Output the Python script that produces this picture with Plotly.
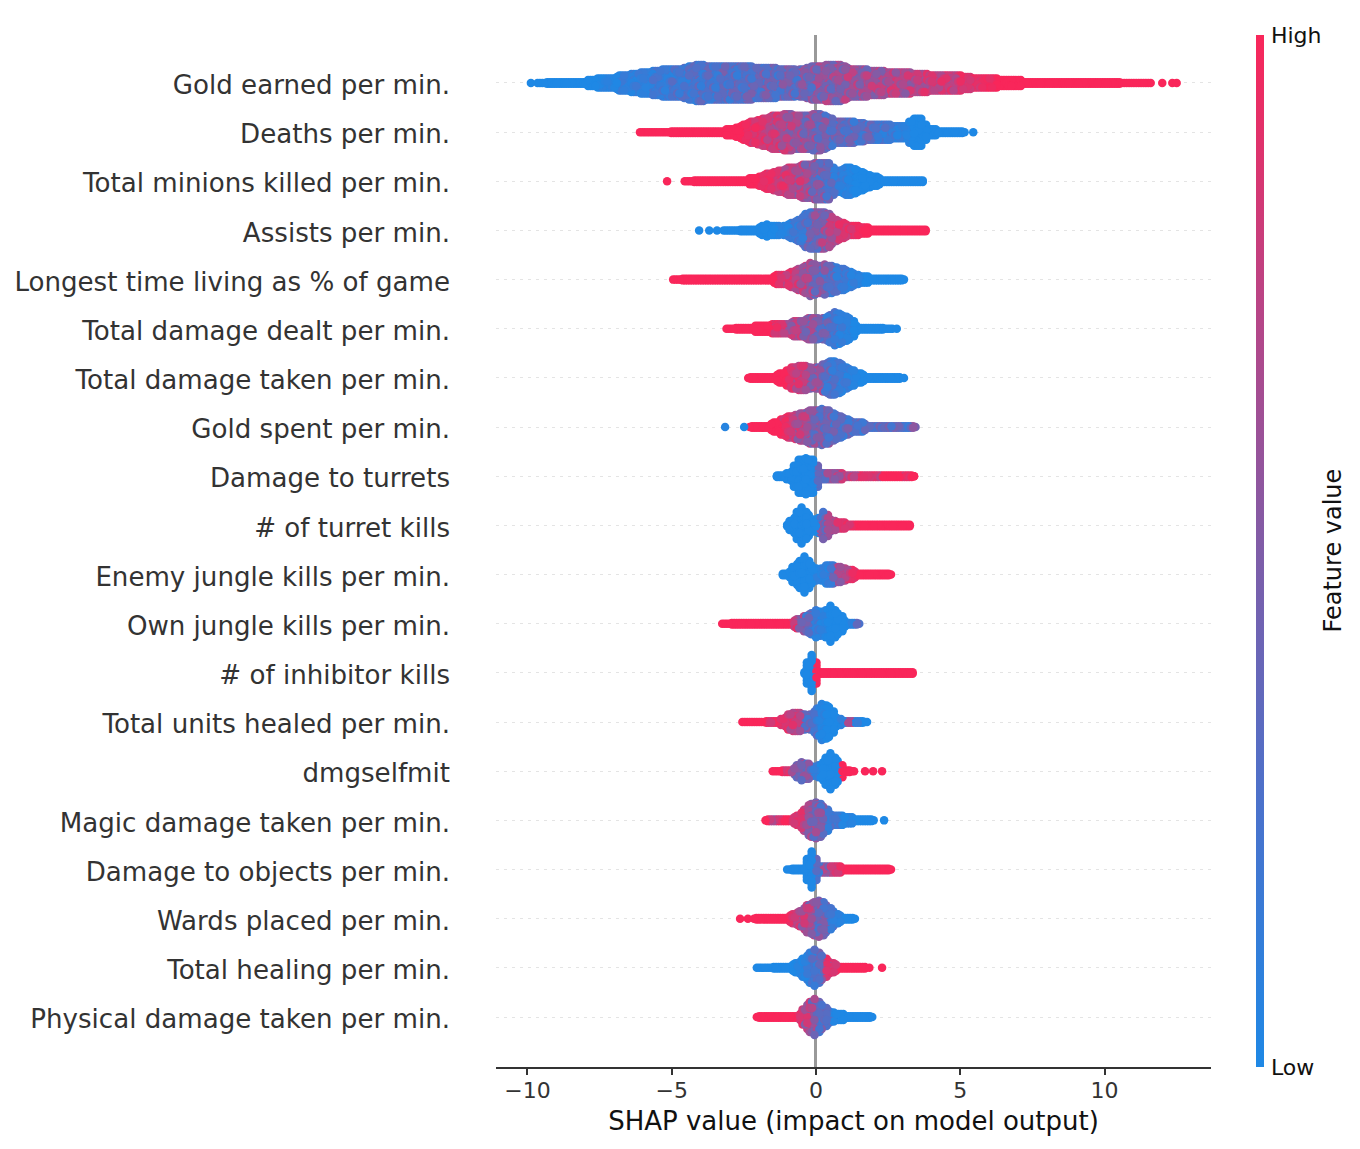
import plotly.graph_objects as go

# Features, top row first, with the x of each row's first swarm column.
FEATURES = [
    "Gold earned per min.", "Deaths per min.", "Total minions killed per min.",
    "Assists per min.", "Longest time living as % of game",
    "Total damage dealt per min.", "Total damage taken per min.",
    "Gold spent per min.", "Damage to turrets", "# of turret kills",
    "Enemy jungle kills per min.", "Own jungle kills per min.",
    "# of inhibitor kills", "Total units healed per min.", "dmgselfmit",
    "Magic damage taken per min.", "Damage to objects per min.",
    "Wards placed per min.", "Total healing per min.",
    "Physical damage taken per min.",
]
ROW_START = [-9.65, -6.1, -4.55, -3.2, -4.95, -3.1, -2.35, -2.3, -1.35, -1.0,
             -1.15, -3.25, -0.4, -2.55, -1.5, -1.75, -0.9, -2.15, -2.05, -2.05]
COLUMN_STEP = 0.25

# Dots per swarm column and mean feature value per column (tenths of the range).
gold_earned_n = [1, 1, 2, 2, 2, 2, 2,
                 3, 3, 4, 4, 5, 6, 7, 7, 8, 9,
                 9, 10, 10, 10, 12, 13, 13, 12, 12, 12,
                 12, 12, 12, 11, 11, 11, 11, 10, 10, 9,
                 10, 12, 12, 13, 13, 13, 11, 10, 10, 9,
                 9, 9, 8, 8, 8, 7, 7, 7, 6, 6,
                 6, 6, 5, 5, 4, 4, 4, 3, 3, 3,
                 3, 2, 2, 2, 2, 2, 2, 2, 2, 2,
                 2, 2, 2, 2, 1, 1, 1, 1, 1]
gold_earned_c = [0, 0, 0, 0, 0, 0, 0,
                 0, 0, .5, .5, .5, 1, 1, 1, 1, 1.5,
                 1.5, 1.5, 2, 2, 2, 2.5, 2.5, 2.5, 2.5, 3,
                 3, 3, 3, 3.5, 3.5, 3.5, 3.5, 4, 4, 4,
                 4.5, 4.5, 5, 5.5, 5.5, 5.5, 6, 6, 6, 6,
                 6.5, 6.5, 7, 7, 7, 7, 7.5, 7.5, 8, 8,
                 8, 8, 8.5, 9, 9, 9.5, 9.5, 10, 10, 10,
                 10, 10, 10, 10, 10, 10, 10, 10, 10, 10,
                 10, 10, 10, 10, 10, 10, 10, 10, 10]

deaths_n = [1, 1, 1, 1, 1, 2, 2, 2, 2, 2, 2, 2, 3, 3, 5, 7, 8, 10, 11, 12, 13, 13,
            12, 12, 13, 13, 11, 8, 8, 8, 7, 7, 6, 6, 6, 5, 5, 5, 10, 10, 3, 3, 2, 2, 2, 1]
deaths_c = [10, 10, 10, 10, 10, 10, 10, 10, 10, 10, 10, 10, 10, 10, 10, 9.5, 9, 8.5, 8, 7.5, 7, 6.5,
            6, 5.5, 5, 4.5, 4, 3.5, 3.5, 3, 3, 3, 3, 2.5, 2, 1.5, 1, .5, 0, 0, 0, 0, 0, 0, 0, 0]

minions_n = [1, 1, 2, 2, 2, 2, 2, 2, 2, 3, 3, 5, 6, 8, 9, 10, 11, 12, 13, 13, 13,
             7, 9, 10, 8, 6, 4, 3, 2, 2, 2, 2, 2, 2]
minions_c = [10, 10, 10, 10, 10, 10, 10, 10, 10, 10, 10, 9.5, 9, 8.5, 8, 7.5, 7, 6, 5, 4, 3,
             2, 1, .5, 0, 0, 0, 0, 0, 0, 0, 0, 0, 0]

assists_n = [1, 1, 1, 2, 2, 3, 5, 4, 3, 5, 7, 10, 13, 13, 13, 10, 7, 5, 4, 3, 3, 2, 2,
             2, 2, 2, 2, 2, 2]
assists_c = [0, 0, 0, 0, 0, 0, 0, 0, .5, 1, 1.5, 2.5, 3.5, 4.5, 5.5, 7, 8, 8.5, 9, 9.5, 10, 10, 10,
             10, 10, 10, 10, 10, 10]

longest_n = [1, 1, 2, 2, 2, 2, 2, 2, 2, 2, 2, 2, 2, 2, 3, 4, 5, 7, 9, 12, 10, 11, 10, 8, 7, 5,
             3, 3, 2, 2, 2, 2, 1]
longest_c = [10, 10, 10, 10, 10, 10, 10, 10, 10, 10, 10, 10, 10, 10, 10, 9, 8.5, 7.5, 7, 5.5, 4.5, 4,
             3, 2, 1.5, 1, .5, 0, 0, 0, 0, 0, 0]

dealt_n = [1, 1, 2, 2, 3, 3, 3, 4, 4, 5, 6, 7, 8, 7, 9, 12, 10, 8, 3, 2, 2, 2, 1, 1]
dealt_c = [10, 10, 10, 10, 10, 10, 10, 9, 8, 7, 6.5, 6, 5, 4, 3, 2, 1, .5, 0, 0, 0, 0, 0, 0]

taken_n = [1, 2, 2, 2, 3, 4, 8, 9, 9, 7, 8, 11, 12, 10, 7, 4, 3, 2, 2, 2, 2, 2]
taken_c = [10, 10, 10, 10, 10, 10, 9, 8, 7, 6, 5, 3, 2, 1.5, 1, .5, 0, 0, 0, 0, 0, 0]

spent_n = [1, 2, 2, 3, 4, 7, 8, 10, 11, 12, 13, 12, 9, 7, 5, 4, 3, 2, 2, 2, 2, 2, 2, 1]
spent_c = [10, 10, 10, 10, 10, 9, 8, 7, 6, 5, 4, 4, 3, 3, 3, 3, 3, 3, 3, 3, 3, 3, 3, 4]

turrets_n = [2, 2, 4, 12, 13, 12, 3, 3, 3, 3, 2, 2, 2, 2, 2, 2, 2, 2, 2, 1]
turrets_c = [0, 0, 0, 0, 0, 0, 3, 5, 6, 7, 7, 8, 9, 9, 8, 10, 10, 10, 9, 10]

turret_kills_n = [2, 6, 13, 8, 2, 10, 5, 3, 3, 2, 2, 2, 2, 2, 2, 2, 2, 2]
turret_kills_c = [0, 0, 0, 0, 0, 4, 6, 8, 9, 9, 10, 10, 10, 10, 10, 10, 10, 10]

enemy_jungle_n = [2, 3, 8, 13, 7, 3, 7, 7, 6, 4, 3, 2, 2, 2, 2, 1]
enemy_jungle_c = [0, 0, 0, 0, 0, .5, 1, 3, 6, 8, 9, 10, 10, 10, 10, 10]

own_jungle_n = [1, 1, 2, 2, 2, 2, 2, 2, 2, 2, 3, 4, 7, 10, 8, 13, 8, 3, 2, 1]
own_jungle_c = [10, 10, 10, 10, 10, 10, 10, 10, 10, 10, 8, 6, 3, 1.5, .5, 0, 0, 0, .5, 3]

inhibitor_n = [2, 13, 2, 2, 2, 2, 2, 2, 2, 2, 2, 2, 2, 2, 2, 2]
inhibitor_c = [0, 0, 10, 10, 10, 10, 10, 10, 10, 10, 10, 10, 10, 10, 10, 10]

units_healed_n = [1, 1, 1, 1, 2, 2, 4, 7, 7, 5, 8, 13, 11, 4, 2, 2, 2, 1]
units_healed_c = [10, 10, 10, 10, 9, 9, 9, 8, 7, 4, 2, .5, 0, 0, .5, 7, 1, 0]

selfmit_n = [1, 1, 2, 3, 7, 6, 3, 7, 13, 8, 2, 1]
selfmit_c = [10, 10, 9, 5, 5, 4, 1, 0, 0, 0, 10, 10]

magic_n = [1, 2, 2, 2, 3, 6, 11, 13, 10, 5, 4, 3, 3, 2, 2, 1]
magic_c = [10, 7, 9, 10, 9, 8, 6, 5, 4, 2, 1.5, .5, .5, 0, 0, 0]

objects_n = [1, 2, 2, 13, 3, 3, 3, 3, 2, 2, 2, 2, 2, 2, 1]
objects_c = [0, 0, 0, 0, 3, 5, 8, 9, 10, 10, 10, 10, 10, 10, 10]

wards_n = [1, 2, 2, 2, 2, 3, 5, 8, 11, 13, 10, 6, 3, 2, 1]
wards_c = [10, 10, 10, 10, 10, 9, 8, 7, 6, 4.5, 3.5, 2, .5, 0, 0]

healing_n = [1, 1, 1, 2, 2, 3, 5, 9, 13, 9, 5, 3, 2, 2, 2, 2]
healing_c = [0, 0, 0, 0, 0, 0, .5, 1, 2, 4, 8, 9, 10, 10, 10, 10]

physical_n = [1, 2, 2, 2, 2, 2, 3, 9, 13, 9, 5, 3, 3, 2, 2, 2, 1]
physical_c = [10, 10, 10, 10, 10, 10, 9, 7, 5, 3.5, 2, .5, 0, 0, 0, 0, 0]

ROW_COUNTS = [gold_earned_n, deaths_n, minions_n, assists_n, longest_n, dealt_n,
              taken_n, spent_n, turrets_n, turret_kills_n, enemy_jungle_n,
              own_jungle_n, inhibitor_n, units_healed_n, selfmit_n, magic_n,
              objects_n, wards_n, healing_n, physical_n]
ROW_COLORS = [gold_earned_c, deaths_c, minions_c, assists_c, longest_c, dealt_c,
              taken_c, spent_c, turrets_c, turret_kills_c, enemy_jungle_c,
              own_jungle_c, inhibitor_c, units_healed_c, selfmit_c, magic_c,
              objects_c, wards_c, healing_c, physical_c]

# Isolated dots in the tails: row index, SHAP value, feature value in tenths.
STRAY_ROW = [0, 0, 0, 0, 1, 2, 3, 3, 3, 5, 6, 8, 13, 14, 14, 14, 14, 15, 16, 17, 17, 18, 18, 8, 7, 7]
STRAY_X = [-9.88, 12.0, 12.35, 12.5, 5.45, -5.16, -4.05, -3.7, -3.43, 2.8, 3.05, 3.4,
           1.77, 1.32, 1.7, 1.98, 2.29, 2.36, -1.0, -2.63, -2.36, 1.85, 2.29, -1.36, -3.15, -2.49]
STRAY_C = [0, 10, 10, 10, 0, 10, 0, 0, 0, 0, 0, 10, 0, 10, 10, 10, 10, 0, 0, 10, 10, 10, 10, 0, .5, 0]

RED_BLUE = [[0, "#1E88E5"], [0.25, "#4A72CC"], [0.5, "#7F5DA8"], [0.75, "#BC4384"], [1, "#F9265A"]]
STACK_GAP = 0.061
SUB_OFFSET = 1 / 3


def frac(value):
    return value - int(value)


def swarm_row(row):
    """Fill each column with overlapping dots stacked about the row's centre line."""
    centre = len(FEATURES) - 1 - row
    counts = ROW_COUNTS[row]
    dots = []
    for col, (n, tenths) in enumerate(zip(counts, ROW_COLORS[row], strict=True)):
        x0 = ROW_START[row] + col * COLUMN_STEP
        level = tenths / 10
        amp = 0.9 * level * (1 - level)
        # Each column holds three overlapping stacks; the outer two taper toward
        # the next column so the swarm's outline stays rounded. Row ends keep one.
        stacks = [(0.0, n)]
        if col > 0:
            stacks.append((-SUB_OFFSET, max(1, round((n + counts[col - 1]) / 2))))
        if col < len(counts) - 1:
            stacks.append((SUB_OFFSET, max(1, round((n + counts[col + 1]) / 2))))
        for s, (sub, height) in enumerate(stacks):
            # Two-dot stacks sit closer so thin tails stay barely wider than a dot.
            gap = STACK_GAP / 2 if height == 2 else STACK_GAP
            for j in range(height):
                seed = (j + 1) * 0.6180339 + (col + 1) * 0.3247 + (s + 1) * 0.7548
                shade = min(1, max(0, level + amp * 2 * (frac(seed * 1.7) - 0.5)))
                dots.append((frac(seed * 2.3), x0 + sub * COLUMN_STEP,
                             centre + (j - (height - 1) / 2) * gap, shade))
    dots.sort()
    return [d[1] for d in dots], [d[2] for d in dots], [d[3] for d in dots]


xs, ys, cs = [], [], []
for row in range(len(FEATURES)):
    x, y, c = swarm_row(row)
    xs += x
    ys += y
    cs += c
for row, x, tenths in zip(STRAY_ROW, STRAY_X, STRAY_C, strict=True):
    xs.append(x)
    ys.append(len(FEATURES) - 1 - row)
    cs.append(tenths / 10)

fig = go.Figure(go.Scatter(
    x=xs, y=ys, mode="markers", hoverinfo="skip",
    marker=dict(
        size=8.5, color=cs, cmin=0, cmax=1, colorscale=RED_BLUE, line=dict(width=0),
        colorbar=dict(
            x=1.063, xanchor="left", y=0, yanchor="bottom", len=1, lenmode="fraction",
            thickness=8, thicknessmode="pixels", outlinewidth=0, xpad=0, ypad=0,
            ticks="outside", ticklen=3, tickcolor="rgba(0,0,0,0)",
            tickvals=[0, 1], ticktext=["Low", "High"],
            tickfont=dict(family="DejaVu Sans", size=22, color="#111"),
        ),
    ),
))

fig.update_layout(
    width=1360, height=1149, margin=dict(l=496, r=149, t=35, b=82, autoexpand=False),
    paper_bgcolor="white", plot_bgcolor="white", showlegend=False,
    xaxis=dict(
        range=[-11.09, 13.69], tickvals=[-10, -5, 0, 5, 10], showgrid=False,
        zeroline=True, zerolinecolor="#999999", zerolinewidth=3,
        showline=True, linecolor="#333333", linewidth=2, ticks="outside", ticklen=6,
        tickwidth=2, tickcolor="#333333", ticklabelstandoff=-3,
        tickfont=dict(family="DejaVu Sans", size=22, color="#333333"),
        title=dict(text="SHAP value (impact on model output)", standoff=9,
                   font=dict(family="DejaVu Sans", size=26, color="#111")),
    ),
    yaxis=dict(
        range=[-1.017, 19.976], tickvals=list(range(len(FEATURES))), ticktext=FEATURES[::-1],
        showline=False, zeroline=False, ticks="", ticklabelstandoff=45, ticklabelshift=2,
        showgrid=True, gridcolor="#e4e4e4", gridwidth=1, griddash="3px,5px",
        tickfont=dict(family="DejaVu Sans", size=26.1, color="#333333"),
    ),
    annotations=[dict(
        text="Feature value", xref="paper", yref="paper", x=1.17, y=0.5,
        textangle=-90, showarrow=False, xanchor="center", yanchor="middle",
        font=dict(family="DejaVu Sans", size=24, color="#111"),
    )],
)

fig.write_html("out.html")
